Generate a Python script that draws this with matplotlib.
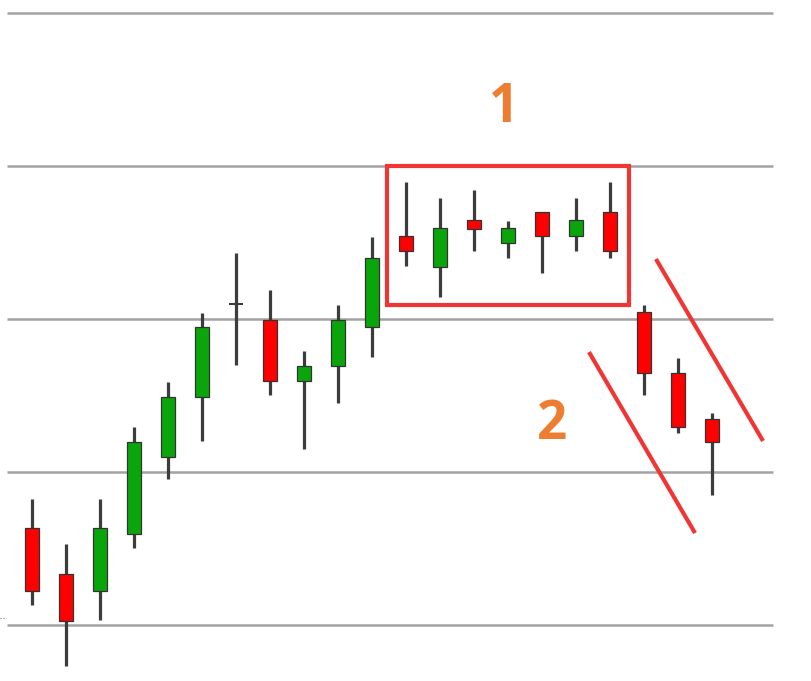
import numpy as np
import matplotlib.pyplot as plt
from matplotlib.patches import Rectangle

# candle data (price units, grid every 100)
opens  = [63.4, 33.3, 22.2, 59.5, 109.8, 149.0, 209.8, 199.3, 159.5, 169.3, 194.8,
          254.2, 234.0, 264.7, 249.7, 269.9, 254.2, 269.9, 204.6, 164.7, 134.6]
highs  = [82.4, 52.9, 82.4, 129.4, 158.8, 203.9, 243.1, 219.0, 179.1, 209.2, 253.6,
          289.5, 279.1, 284.3, 264.1, 269.9, 279.1, 289.5, 209.2, 174.5, 138.6]
lows   = [13.1, -26.8, 3.3, 50.3, 95.4, 120.3, 169.9, 150.3, 115.0, 145.1, 175.2,
          234.6, 214.4, 244.4, 239.9, 230.1, 244.4, 239.9, 150.3, 125.5, 85.0]
closes = [22.2, 2.6, 63.4, 119.6, 149.0, 194.8, 209.8, 159.5, 169.3, 199.3, 239.9,
          244.4, 259.5, 258.8, 259.5, 254.2, 264.7, 244.4, 164.7, 129.4, 119.6]

grid_levels = [0, 100, 200, 300, 400]

# consolidation box (x range in candle index, price range)
box_x = [10.44, 17.56]
box_y = [209.2, 300.0]

# falling channel lines
upper_x = [18.35, 21.5]
upper_y = [239.2, 120.3]
lower_x = [16.38, 19.5]
lower_y = [178.4, 60.1]

labels = ['1', '2']
label_x = [13.87, 15.29]
label_y = [338.0, 131.0]

up_col = '#0aa50a'
down_col = '#ff0000'
edge_col = '#333333'
orange = '#ed7d31'
box_red = '#f03535'

fig = plt.figure(figsize=(8.12, 6.81), dpi=100)
ax = fig.add_axes([0, 0, 1, 1])
ax.set_xlim(-0.941, 22.94)
ax.set_ylim(-36.6, 408.5)
ax.axis('off')

# horizontal grid
ax.hlines(grid_levels, -0.735, 21.79, color='#a2a2a2', lw=1.8, zorder=1)
ax.hlines(4.6, -0.94, -0.76, color='#777777', lw=0.8, ls=':', zorder=1)

w = 0.42
for i, (o, h, l, c) in enumerate(zip(opens, highs, lows, closes)):
    ax.vlines(i, l, h, color='#3c3c3c', lw=2.3, zorder=2)
    if o == c:
        ax.hlines(o, i - w / 2, i + w / 2, color='#3c3c3c', lw=1.5, zorder=3)
        continue
    col = up_col if c > o else down_col
    ax.add_patch(Rectangle((i - w / 2, min(o, c)), w, abs(c - o),
                           facecolor=col, edgecolor=edge_col, lw=0.9, zorder=3))

ax.add_patch(Rectangle((box_x[0], box_y[0]), box_x[1] - box_x[0], box_y[1] - box_y[0],
                       fill=False, edgecolor=box_red, lw=3, zorder=4))
ax.plot(upper_x, upper_y, color=box_red, lw=3, solid_capstyle='butt', zorder=4)
ax.plot(lower_x, lower_y, color=box_red, lw=3, solid_capstyle='butt', zorder=4)

for t, x, y in zip(labels, label_x, label_y):
    ax.text(x, y, t, color=orange, fontsize=38, fontweight='bold', family='Open Sans',
            ha='center', va='center', zorder=5)

fig.savefig('out.png', dpi=100)
